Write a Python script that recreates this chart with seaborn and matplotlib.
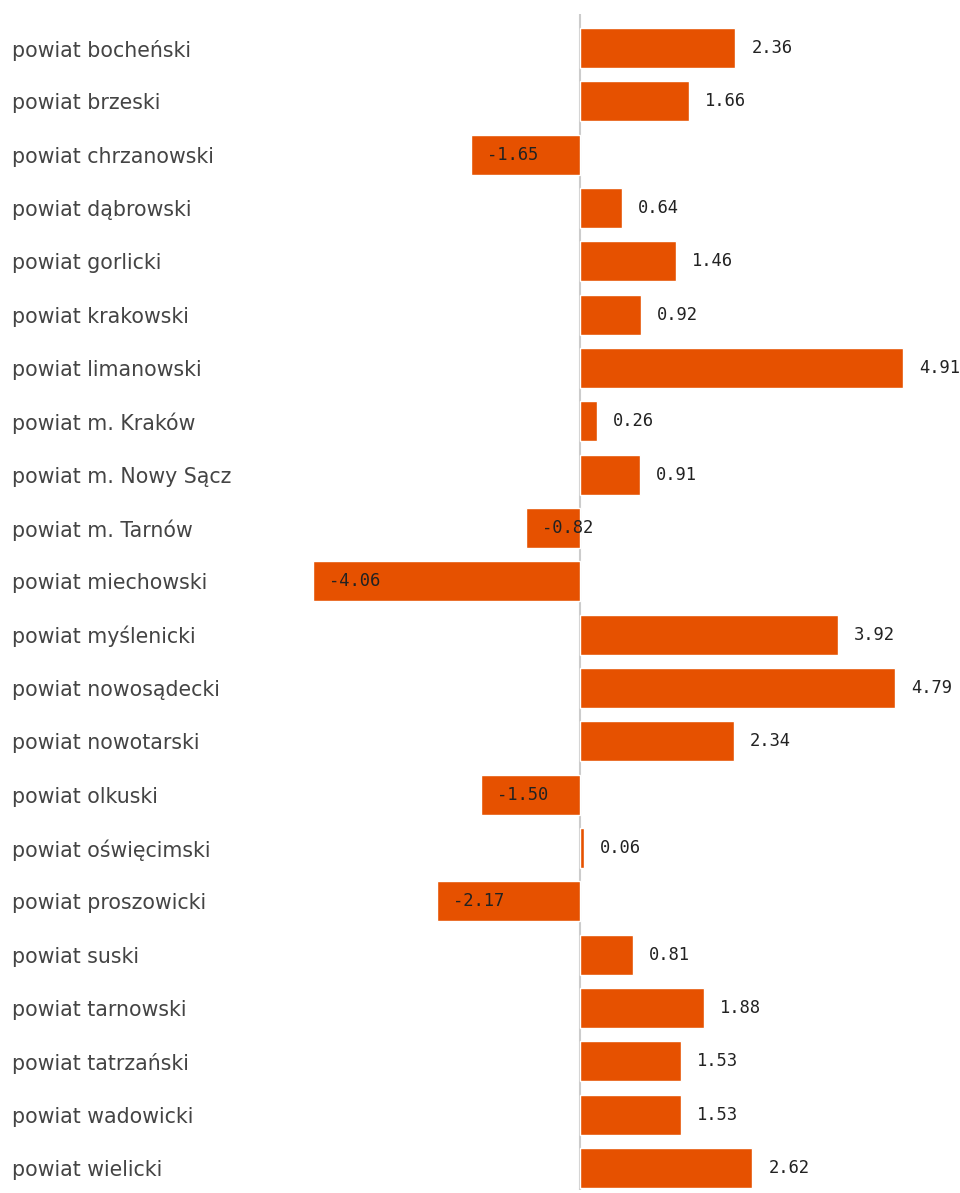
import matplotlib
matplotlib.use('Agg')
import matplotlib.pyplot as plt
import seaborn as sns
import pandas as pd

# dane
powiaty = [
    "powiat bocheński", "powiat brzeski", "powiat chrzanowski", "powiat dąbrowski",
    "powiat gorlicki", "powiat krakowski", "powiat limanowski", "powiat m. Kraków",
    "powiat m. Nowy Sącz", "powiat m. Tarnów", "powiat miechowski", "powiat myślenicki",
    "powiat nowosądecki", "powiat nowotarski", "powiat olkuski", "powiat oświęcimski",
    "powiat proszowicki", "powiat suski", "powiat tarnowski", "powiat tatrzański",
    "powiat wadowicki", "powiat wielicki",
]
wartosci = [
    2.36, 1.66, -1.65, 0.64,
    1.46, 0.92, 4.91, 0.26,
    0.91, -0.82, -4.06, 3.92,
    4.79, 2.34, -1.50, 0.06,
    -2.17, 0.81, 1.88, 1.53,
    1.53, 2.62,
]

df = pd.DataFrame({"powiat": powiaty, "wartosc": wartosci})

sns.set_style("white")
W, H = 960, 1193
fig = plt.figure(figsize=(W / 100, H / 100), dpi=100)

# osie w pikselach: zero przy x=580
x0, px_unit = 580, 65.8
ax_left, ax_right = 300, 960
ax_top, ax_bottom = 14, 1190
ax = fig.add_axes([ax_left / W, 1 - ax_bottom / H, (ax_right - ax_left) / W, (ax_bottom - ax_top) / H])

sns.barplot(data=df, x="wartosc", y="powiat", orient="h", color="#E65100",
            width=0.75, saturation=1, ax=ax)

ax.set_xlim((ax_left - x0) / px_unit, (ax_right - x0) / px_unit)
pitch = (1168 - 48) / 21
ax.set_ylim((ax_bottom - 48) / pitch, (ax_top - 48) / pitch)

ax.axvline(0, color="#cccccc", lw=1.5, zorder=0)

for s in ax.spines.values():
    s.set_visible(False)
ax.set_xticks([])
ax.set_xlabel("")
ax.set_ylabel("")
ax.tick_params(axis="y", length=0, pad=(ax_left - 12) * 0.72, labelsize=14.8, labelcolor="#444444")
for lab in ax.get_yticklabels():
    lab.set_ha("left")
    lab.set_fontfamily(["DejaVu Sans"])

# etykiety wartości
for i, v in enumerate(wartosci):
    ax.annotate(f"{v:.2f}", xy=(v, i), xytext=(11.5, 0),
                textcoords="offset points", ha="left", va="center",
                fontsize=12.3, family=["DejaVu Sans Mono"], color="#222222",
                annotation_clip=False)

fig.savefig("out.png", dpi=100)
